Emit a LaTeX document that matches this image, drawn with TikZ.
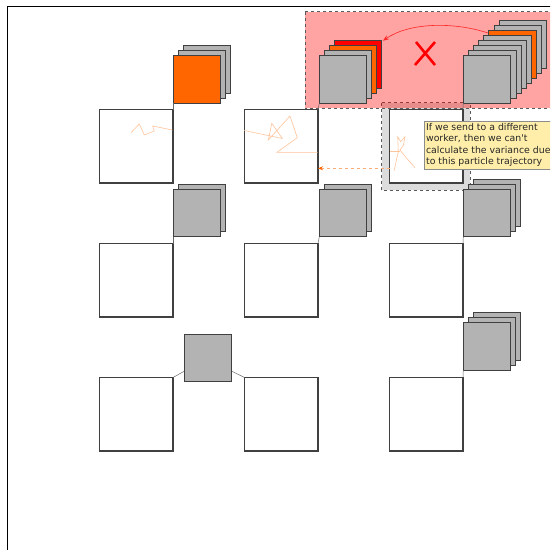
\documentclass[tikz,border=0pt]{standalone}
\usepackage{fontspec}
\newfontfamily\notefont{DejaVu Sans}
\usetikzlibrary{arrows.meta,calc}
\definecolor{pgray}{HTML}{B3B3B3}
\definecolor{porange}{HTML}{FF6600}
\definecolor{pred}{HTML}{FF0000}
\definecolor{traj}{HTML}{FFC49C}
\definecolor{notefill}{HTML}{FFEEAA}
\definecolor{bandgray}{HTML}{DCDCDC}
\definecolor{dasharrow}{HTML}{FFAA77}
\begin{document}
\begin{tikzpicture}[x=1pt,y=-1pt,
  particle/.style={draw=black!75, fill=pgray, line width=0.8pt, minimum size=47.5pt, inner sep=0pt, outer sep=0pt, anchor=north west},
  worker/.style={draw=black!75, fill=white, line width=1.2pt, minimum size=73.5pt, inner sep=0pt, outer sep=0pt, anchor=north west},
  link/.style={draw=black!60, line width=0.5pt},
  trajline/.style={draw=traj, line width=0.6pt},
  region/.style={draw=black!65, dashed, line width=0.8pt},
  note/.style={draw=black!45, fill=notefill, anchor=north west, align=left, font=\notefont\fontsize{9.35}{11.3}\selectfont, inner xsep=1.8pt, inner ysep=2.5pt, line width=0.6pt, text=black!85}]
\useasboundingbox (0,0) rectangle (550,550);
\clip (0,0) rectangle (550,550);
% frame
\draw[line width=1pt] (7,6) rectangle (600,600);
% selected worker band
\path[region, fill=bandgray] (381.7,102.7) rectangle (470,190);
% workers
\node[worker] (b11) at (99.5,109.5) {};
\node[worker] (b12) at (244.5,109.5) {};
\node[worker] (b13) at (389.5,109.5) {};
\node[worker] (b21) at (99.5,243.5) {};
\node[worker] (b22) at (244.5,243.5) {};
\node[worker] (b23) at (389.5,243.5) {};
\node[worker] (b31) at (99.5,377.5) {};
\node[worker] (b32) at (244.5,377.5) {};
\node[worker] (b33) at (389.5,377.5) {};
% pink region
\path[region, fill=red, fill opacity=0.36] (305,11.7) rectangle (600,108.3);
% stack row1 col1
\foreach \i in {2,1} \node[particle] at ({173+5*\i},{55.7-5*\i}) {};
\node[particle, fill=porange] (p11) at (173,55.7) {};
% stack pink left
\node[particle, fill=pred] at (334.3,40.7) {};
\node[particle, fill=porange] at (329.3,45.7) {};
\node[particle] at (324.3,50.7) {};
\node[particle] (p12) at (319.3,55.7) {};
% stack pink right
\foreach \i/\c in {7/pgray,6/pgray,5/porange,4/pgray,3/pgray,2/pgray,1/pgray}
  \node[particle, fill=\c] at ({463.3+5.1*\i},{55.7-5*\i}) {};
\node[particle] (p13) at (463.3,55.7) {};
% row 2 stacks
\node[particle] at (178,184.3) {};
\node[particle] (p21) at (173,189.3) {};
\node[particle] at (324.3,184.3) {};
\node[particle] (p22) at (319.3,189.3) {};
\foreach \i in {2,1} \node[particle] at ({463.3+5*\i},{189.3-5*\i}) {};
\node[particle] (p23) at (463.3,189.3) {};
% row 3 stacks
\foreach \i in {2,1} \node[particle] at ({463.3+5*\i},{322.7-5*\i}) {};
\node[particle] (p33) at (463.3,322.7) {};
\node[particle] (p3m) at (184.3,334.3) {};
% links
\draw[link] (p11.south west) -- (b11.north east);
\draw[link] (p12.south west) -- (b12.north east);
\draw[link] (p13.south west) -- (b13.north east);
\draw[link] (p21.south west) -- (b21.north east);
\draw[link] (p22.south west) -- (b22.north east);
\draw[link] (p23.south west) -- (b23.north east);
\draw[link] (p33.south west) -- (b33.north east);
\draw[link] ([yshift=10.6pt]p3m.south west) -- (b31.north east);
\draw[link] ([yshift=10.6pt]p3m.south east) -- (b32.north west);
% trajectories
\draw[trajline] (131,132.7) -- (139.3,124) -- (144.3,135) -- (154.3,131) -- (152.7,126) -- (172.3,130);
\draw[trajline] (244.3,130.5) -- (282.3,138.5) -- (271.8,123.3) -- (268.3,140) -- (290,116) -- (297.3,137.7) -- (277,152.3) -- (317.5,152.3);
\draw[trajline] (415,167.7) -- (406.7,158.3) -- (400,150) -- (403.3,145.7) -- (405,136.7) -- (400.7,141.7) -- (397.7,136.7) -- (398.3,151.7) -- (394,171);
\draw[trajline] (390,151.7) -- (400,151.7);
% dashed arrow back to worker
\coordinate (dstart) at (390,168.3);
\draw[dasharrow, dashed, line width=0.7pt, -{Stealth[length=5pt,width=4pt,color=porange]}] (dstart) -- (dstart -| b12.east);
% red curved arrow
\coordinate (rstart) at (488,33);
\draw[red!85, line width=0.6pt, -{Stealth[length=6pt,width=4.5pt]}] (rstart) .. controls (455,22) and (410,22) .. (383,40.7);
% red cross
\draw[pred, line width=2.6pt] (416,42) -- (435,65) (435,42) -- (415,65);
% note
\node[note] (note) at (424,120.7) {If we send to a different\\worker, then we can\textquotesingle t\\calculate the variance due\\to this particle trajectory};
\end{tikzpicture}
\end{document}
